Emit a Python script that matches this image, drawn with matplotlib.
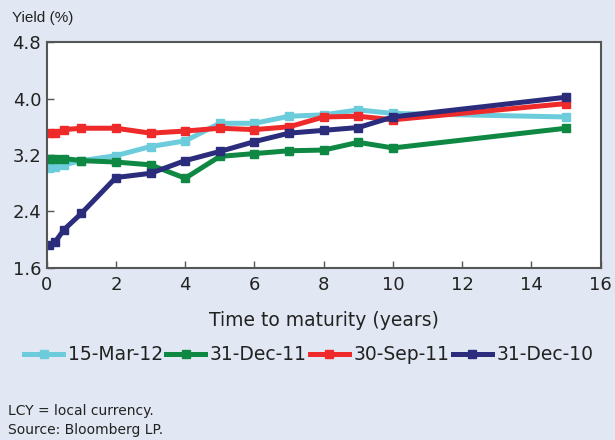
import matplotlib
matplotlib.use("Agg")
import matplotlib.pyplot as plt

maturity = [0.08, 0.25, 0.5, 1, 2, 3, 4, 5, 6, 7, 8, 9, 10, 15]
mar12 = [3.01, 3.03, 3.06, 3.12, 3.19, 3.32, 3.40, 3.65, 3.65, 3.75, 3.77, 3.84, 3.79, 3.74]
dec11 = [3.15, 3.15, 3.15, 3.12, 3.10, 3.06, 2.87, 3.18, 3.22, 3.26, 3.27, 3.38, 3.30, 3.58]
sep11 = [3.51, 3.51, 3.56, 3.58, 3.58, 3.51, 3.54, 3.58, 3.56, 3.60, 3.74, 3.75, 3.70, 3.93]
dec10 = [1.92, 1.97, 2.14, 2.37, 2.88, 2.94, 3.12, 3.25, 3.39, 3.51, 3.55, 3.59, 3.74, 4.02]

series = [("15-Mar-12", mar12, "#6DCCDC"),
          ("31-Dec-11", dec11, "#0E8843"),
          ("30-Sep-11", sep11, "#EE2A2A"),
          ("31-Dec-10", dec10, "#2B2C7C")]
xticks = [0, 2, 4, 6, 8, 10, 12, 14, 16]
yticks = [1.6, 2.4, 3.2, 4.0, 4.8]

bg = "#E1E8F3"
fig = plt.figure(figsize=(6.15, 4.4), dpi=100, facecolor=bg)
ax = fig.add_axes([0.0759, 0.3916, 0.9009, 0.5123])
ax.set_facecolor("white")

for name, vals, col in series:
    ax.plot(maturity, vals, color=col, lw=3.6, marker="s", ms=5.5,
            markeredgecolor=col, label=name, solid_joinstyle="round")

ax.set_xlim(0, 16)
ax.set_ylim(1.6, 4.8)
ax.set_xticks(xticks)
ax.set_yticks(yticks)
ax.set_yticklabels([f"{v:.1f}" for v in yticks])
ax.tick_params(direction="in", length=5, width=1, color="#555555",
               labelsize=13, labelcolor="#222222", pad=4)
ax.tick_params(axis="x", pad=6)
for s in ax.spines.values():
    s.set_color("#555555")
    s.set_linewidth(1.5)

ax.set_xlabel("Time to maturity (years)", fontsize=13.5, color="#222222", labelpad=12)
fig.text(12/615, 1-18/440, "Yield (%)", fontsize=11, family="Liberation Sans",
         color="#222222", va="center", ha="left")

fig.legend(loc="center", bbox_to_anchor=(0.502, 1-355/440), ncol=4,
           frameon=False, fontsize=13.5, handlelength=2.1, handletextpad=0.25,
           columnspacing=0.15, labelcolor="#222222")

fig.text(8/615, 1-411/440, "LCY = local currency.", fontsize=10, color="#222222",
         va="center", ha="left")
fig.text(8/615, 1-430/440, "Source: Bloomberg LP.", fontsize=10, color="#222222",
         va="center", ha="left")

fig.savefig("out.png", dpi=100, facecolor=bg)
